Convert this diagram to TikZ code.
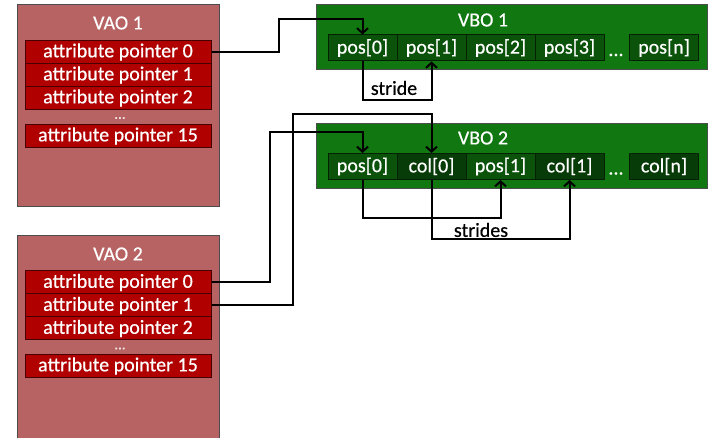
\documentclass[tikz,border=0pt]{standalone}
\usepackage{fontspec}
\setmainfont{Carlito}
\newfontfamily\diagfont{Carlito}[FakeBold=0.5]
\usetikzlibrary{arrows.meta}
\definecolor{vaofill}{HTML}{B76363}
\definecolor{attrfill}{HTML}{B00000}
\definecolor{vbofill}{HTML}{117711}
\definecolor{posfill}{HTML}{0B530B}
\definecolor{colfill}{HTML}{073B07}
\tikzset{
  vao/.style={draw=black!70,line width=1pt,fill=vaofill,minimum width=202pt,minimum height=202pt,inner sep=0pt},
  attr/.style={draw=black!60!attrfill,line width=1pt,fill=attrfill,text=white,minimum width=186pt,minimum height=23pt,inner sep=0pt},
  vbo/.style={draw=black!70,line width=1pt,fill=vbofill,minimum width=391pt,minimum height=65pt,inner sep=0pt},
  cell/.style={draw=black!60!posfill,line width=1pt,text=white,minimum width=69pt,minimum height=26pt,inner sep=0pt},
  poscell/.style={cell,fill=posfill},
  colcell/.style={cell,fill=colfill},
  title/.style={text=white,inner sep=0pt},
  vdots/.style={text=white!85!vaofill,inner sep=0pt,font=\diagfont\fontsize{15}{16}\selectfont},
  link/.style={draw=black,line width=2pt,-{Straight Barb[length=5pt,width=11pt]}},
  lbl/.style={text=black,inner sep=0pt}
}
\begin{document}
\begin{tikzpicture}[x=1pt,y=-1pt,every node/.style={font=\diagfont\fontsize{20}{22}\selectfont}]
	\useasboundingbox (0,0) rectangle (710,438);

	\node[vao] (vao1) at (118,106) {};
	\node[title] (t1) at (118,23) {VAO 1};
	\node[attr] (a10) at (118,52) {attribute pointer 0};
	\node[attr] (a11) at (118,75) {attribute pointer 1};
	\node[attr] (a12) at (118,98) {attribute pointer 2};
	\node[vdots] (d1) at (120,118) {...};
	\node[attr] (a115) at (118,136) {attribute pointer 15};

	\node[vao] (vao2) at (118,337) {};
	\node[title] (t2) at (118,254) {VAO 2};
	\node[attr] (a20) at (118,282.5) {attribute pointer 0};
	\node[attr] (a21) at (118,305.5) {attribute pointer 1};
	\node[attr] (a22) at (118,328.5) {attribute pointer 2};
	\node[vdots] (d2) at (120,348.5) {...};
	\node[attr] (a215) at (118,366) {attribute pointer 15};

	\node[vbo] (vbo1) at (511.5,37.5) {};
	\node[title] (t3) at (483,20) {VBO 1};
	\node[poscell] (v1p0) at (362.5,48) {pos[0]};
	\node[poscell] (v1p1) at (431.5,48) {pos[1]};
	\node[poscell] (v1p2) at (500.5,48) {pos[2]};
	\node[poscell] (v1p3) at (569.5,48) {pos[3]};
	\node[title] (d3) at (616,55) {...};
	\node[poscell] (v1pn) at (664,48) {pos[n]};

	\node[vbo] (vbo2) at (511.5,156.5) {};
	\node[title] (t4) at (483,138) {VBO 2};
	\node[poscell] (v2p0) at (362.5,166.5) {pos[0]};
	\node[colcell] (v2c0) at (431.5,166.5) {col[0]};
	\node[poscell] (v2p1) at (500.5,166.5) {pos[1]};
	\node[colcell] (v2c1) at (569.5,166.5) {col[1]};
	\node[title] (d4) at (616,173.5) {...};
	\node[colcell] (v2cn) at (664,166.5) {col[n]};

	\node[lbl] (s1) at (394,88) {stride};
	\node[lbl] (s2) at (481,230) {strides};

	\draw[link] (a10.east) -| ++(67,-33) -| (v1p0.north);
	\draw[link] (v1p0.south) -- ++(0,39) -| (v1p1.south);
	\draw[link] (a20.east) -| ++(58,-150) -| (v2p0.north);
	\draw[link] (a21.east) -| ++(81,-191) -| (v2c0.north);
	\draw[link] (v2p0.south) -- ++(0,38) -| (v2p1.south);
	\draw[link] (v2c0.south) -- ++(0,59) -| (v2c1.south);
\end{tikzpicture}
\end{document}
